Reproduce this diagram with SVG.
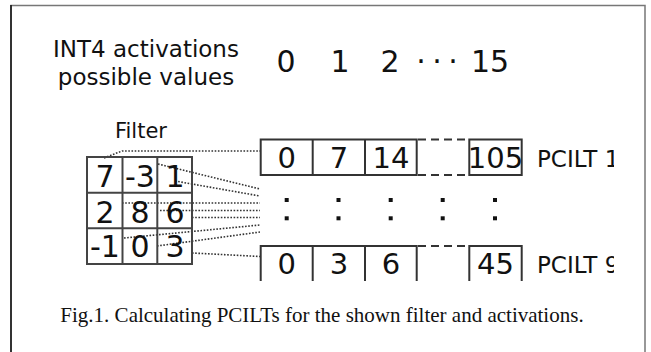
<svg xmlns="http://www.w3.org/2000/svg" width="651" height="352" viewBox="0 0 651 352">
<style>
.s{font-family:'DejaVu Sans',sans-serif;fill:#111}
.m{text-anchor:middle}
.cell{fill:none;stroke:#444;stroke-width:2}
.box{fill:none;stroke:#333;stroke-width:2}
.dash{fill:none;stroke:#333;stroke-width:2;stroke-dasharray:8 5}
.dot{fill:none;stroke:#333;stroke-width:1.6;stroke-dasharray:1.6 1.6}
.cap{font-family:'Liberation Serif',serif;font-size:21px;fill:#111;text-anchor:middle}
</style>
<defs>
<clipPath id="clip"><rect x="0" y="0" width="614" height="281"/></clipPath>
</defs>
<rect x="0" y="0" width="651" height="352" fill="#fff"/>
<g id="frame">
<path d="M11,353 V5.5 H645 V353" fill="none" stroke="#777" stroke-width="1.5"/>
<line x1="11" y1="5" x2="11" y2="353" stroke="#111" stroke-width="1.5"/>
</g>
<g clip-path="url(#clip)">
<g id="title">
<text class="s m" x="146" y="57" font-size="23">INT4 activations</text>
<text class="s m" x="146" y="85" font-size="23">possible values</text>
</g>
<g id="values" class="s m" font-size="30">
<text class="s m" x="286" y="72">0</text>
<text class="s m" x="340" y="72">1</text>
<text class="s m" x="390" y="72">2</text>
<text class="s m" x="421" y="72">·</text>
<text class="s m" x="437" y="72">·</text>
<text class="s m" x="453" y="72">·</text>
<text class="s m" x="490" y="72">15</text>
</g>
<g id="connectors">
<polyline class="dot" points="104,158 122,151 260,151"/>
<line class="dot" x1="158" y1="164" x2="260" y2="189"/>
<line class="dot" x1="175" y1="181" x2="260" y2="196"/>
<line class="dot" x1="122" y1="203" x2="260" y2="203"/>
<line class="dot" x1="160" y1="210.5" x2="260" y2="210.5"/>
<line class="dot" x1="192" y1="217.5" x2="260" y2="217.5"/>
<line class="dot" x1="124" y1="238" x2="260" y2="225"/>
<line class="dot" x1="157" y1="246" x2="260" y2="232"/>
<line class="dot" x1="192" y1="253" x2="260" y2="256.5"/>
</g>
<g id="filter">
<text class="s m" x="141" y="138" font-size="21">Filter</text>
<rect class="cell" x="87" y="157" width="105" height="107"/>
<line class="cell" x1="122.5" y1="157" x2="122.5" y2="264"/>
<line class="cell" x1="157.3" y1="157" x2="157.3" y2="264"/>
<line class="cell" x1="87" y1="192.7" x2="192" y2="192.7"/>
<line class="cell" x1="87" y1="228.3" x2="192" y2="228.3"/>
<g class="s m" font-size="30">
<text class="s m" x="105" y="187" font-size="30">7</text>
<text class="s m" x="140" y="187" font-size="30">-3</text>
<text class="s m" x="175" y="187" font-size="30">1</text>
<text class="s m" x="105" y="222.5" font-size="30">2</text>
<text class="s m" x="140" y="222.5" font-size="30">8</text>
<text class="s m" x="175" y="222.5" font-size="30">6</text>
<text class="s m" x="105" y="257" font-size="30">-1</text>
<text class="s m" x="140" y="257" font-size="30">0</text>
<text class="s m" x="175" y="257" font-size="30">3</text>
</g>
</g>
<g id="pcilt1">
<rect class="box" x="260.7" y="139.5" width="156" height="35.5"/>
<line class="box" x1="312.7" y1="139.5" x2="312.7" y2="175"/>
<line class="box" x1="365" y1="139.5" x2="365" y2="175"/>
<line class="dash" x1="418" y1="139.5" x2="469" y2="139.5"/>
<line class="dash" x1="418" y1="175" x2="469" y2="175"/>
<rect class="box" x="469.3" y="139.5" width="52.4" height="35.5"/>
<text class="s m" x="286.7" y="168" font-size="29">0</text>
<text class="s m" x="339" y="168" font-size="29">7</text>
<text class="s m" x="391" y="168" font-size="29">14</text>
<text class="s m" x="495.5" y="168" font-size="29">105</text>
<text class="s" x="537" y="166.7" font-size="23">PCILT 1</text>
</g>
<g id="ellipsis">
<rect x="284.7" y="198" width="4" height="4" fill="#111"/>
<rect x="284.7" y="216.3" width="4" height="4" fill="#111"/>
<rect x="336.5" y="198" width="4" height="4" fill="#111"/>
<rect x="336.5" y="216.3" width="4" height="4" fill="#111"/>
<rect x="388.7" y="198" width="4" height="4" fill="#111"/>
<rect x="388.7" y="216.3" width="4" height="4" fill="#111"/>
<rect x="440.7" y="198" width="4" height="4" fill="#111"/>
<rect x="440.7" y="216.3" width="4" height="4" fill="#111"/>
<rect x="493" y="198" width="4" height="4" fill="#111"/>
<rect x="493" y="216.3" width="4" height="4" fill="#111"/>
</g>
<g id="pcilt9">
<rect class="box" x="260.7" y="246" width="156" height="50"/>
<line class="box" x1="312.7" y1="246" x2="312.7" y2="296"/>
<line class="box" x1="365" y1="246" x2="365" y2="296"/>
<line class="dash" x1="418" y1="246" x2="469" y2="246"/>
<rect class="box" x="469.3" y="246" width="52.4" height="50"/>
<text class="s m" x="286.7" y="274" font-size="29">0</text>
<text class="s m" x="339" y="274" font-size="29">3</text>
<text class="s m" x="391" y="274" font-size="29">6</text>
<text class="s m" x="495.5" y="274" font-size="29">45</text>
<text class="s" x="537" y="273.3" font-size="23">PCILT 9</text>
</g>
</g>
<g id="caption">
<text class="cap" x="322" y="322">Fig.1. Calculating PCILTs for the shown filter and activations.</text>
</g>
</svg>
